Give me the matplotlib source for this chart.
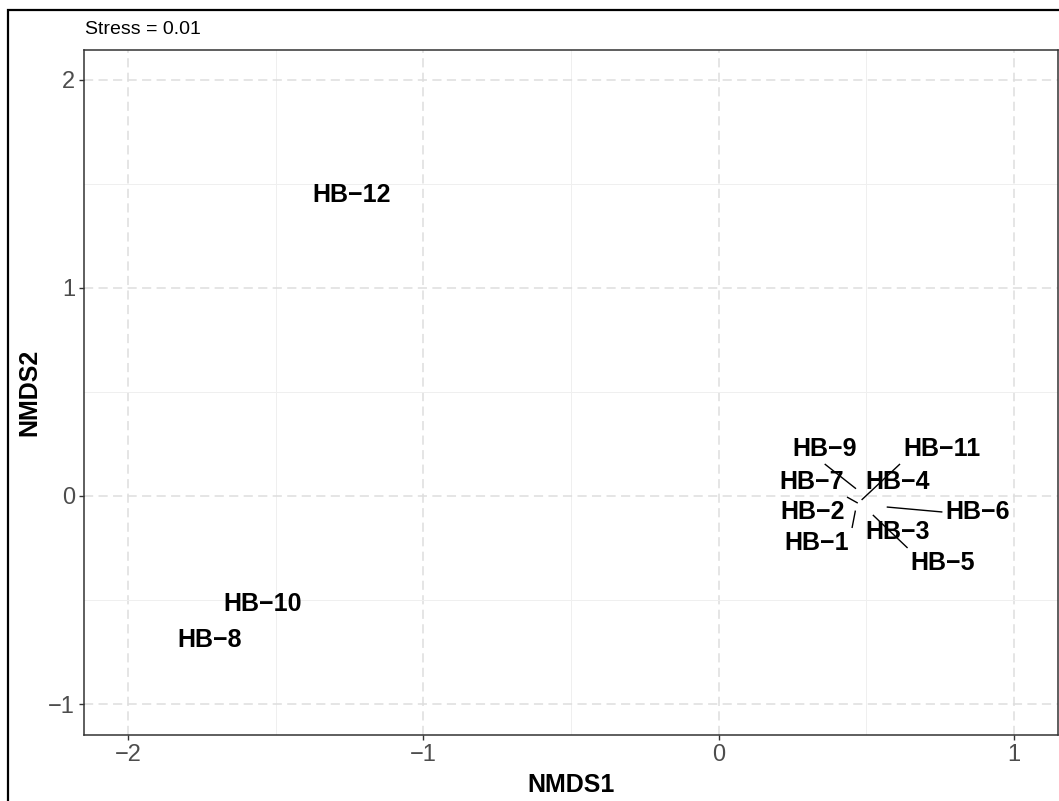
import numpy as np
import matplotlib
matplotlib.use("Agg")
import matplotlib.pyplot as plt
from matplotlib.patches import Rectangle

plt.rcParams['font.family'] = ['Liberation Sans', 'DejaVu Sans']

# NMDS site scores
sites = ["HB\u22121", "HB\u22122", "HB\u22123", "HB\u22124", "HB\u22125", "HB\u22126",
         "HB\u22127", "HB\u22128", "HB\u22129", "HB\u221210", "HB\u221211", "HB\u221212"]
nmds1 = [0.463, 0.40, 0.58, 0.58, 0.522, 0.569, 0.471, -1.724, 0.465, -1.544, 0.484, -1.243]
nmds2 = [-0.07, -0.07, -0.16, 0.06, -0.091, -0.053, -0.034, -0.692, 0.035, -0.519, -0.019, 1.447]

# repelled label positions
label_x = [0.332, 0.318, 0.606, 0.606, 0.759, 0.877, 0.315, -1.724, 0.359, -1.544, 0.755, -1.243]
label_y = [-0.226, -0.077, -0.173, 0.067, -0.322, -0.077, 0.067, -0.692, 0.226, -0.519, 0.226, 1.447]

stress = 0.01
x_ticks = [-2, -1, 0, 1]
y_ticks = [-1, 0, 1, 2]


#ラベルから点へ線分を引く（ggrepel風）
def draw_segments(fig, ax, texts, px, py, pad=3):
    fig.canvas.draw()
    renderer = fig.canvas.get_renderer()
    inv = ax.transData.inverted()
    for t, x, y in zip(texts, px, py):
        bb = t.get_window_extent(renderer)
        x0, y0, x1, y1 = bb.x0 - pad, bb.y0 - pad, bb.x1 + pad, bb.y1 + pad
        sx, sy = ax.transData.transform((x, y))
        if x0 <= sx <= x1 and y0 <= sy <= y1:
            continue
        cx = x0 if sx < x0 else x1 if sx > x1 else (x0 + x1) / 2
        cy = y0 if sy < y0 else y1 if sy > y1 else (y0 + y1) / 2
        ex, ey = inv.transform((cx, cy))
        ax.plot([x, ex], [y, ey], color="black", lw=1.0, solid_capstyle="butt", zorder=3)


def main():
    fig = plt.figure(figsize=(10.59, 8.01), dpi=100)
    ax = fig.add_axes([84 / 1059, 66 / 801, 974 / 1059, 685 / 801])

    ax.set_xlim(-2.149, 1.149)
    ax.set_ylim(-1.149, 2.144)
    ax.set_xticks(x_ticks)
    ax.set_yticks(y_ticks)
    ax.set_xticks(np.array(x_ticks[:-1]) + 0.5, minor=True)
    ax.set_yticks(np.array(y_ticks[:-1]) + 0.5, minor=True)

    ax.grid(which="major", color="#DEDEDE", lw=1.1, ls=(0, (6, 3.5)), zorder=0)
    ax.grid(which="minor", color="#EFEFEF", lw=0.7, ls="-", zorder=0)
    ax.set_axisbelow(True)

    ax.tick_params(which="major", direction="out", length=3.5, width=1.0,
                   color="#333333", labelcolor="#4D4D4D", labelsize=17, pad=3)
    ax.tick_params(which="minor", length=0)
    for s in ax.spines.values():
        s.set_color("#333333")
        s.set_linewidth(1.1)

    texts = []
    for name, lx, ly in zip(sites, label_x, label_y):
        t = ax.text(lx, ly, name, ha="center", va="center", fontsize=18,
                    fontweight="bold", color="black", zorder=4)
        texts.append(t)

    ax.set_xlabel("NMDS1", fontsize=18, fontweight="bold", labelpad=5)
    ax.set_ylabel("NMDS2", fontsize=18, fontweight="bold", labelpad=5)

    fig.text(85 / 1059, 1 - 29 / 801, "Stress = %.2f" % stress, fontsize=14,
             ha="left", va="center", color="black")

    # 外枠
    fig.add_artist(Rectangle((8 / 1059, -0.1), 2, 1.1 - 10 / 801, transform=fig.transFigure,
                             fill=False, ec="black", lw=1.6, clip_on=False))

    draw_segments(fig, ax, texts, nmds1, nmds2)
    fig.savefig("out.png", dpi=100)


if __name__ == "__main__":
    main()
